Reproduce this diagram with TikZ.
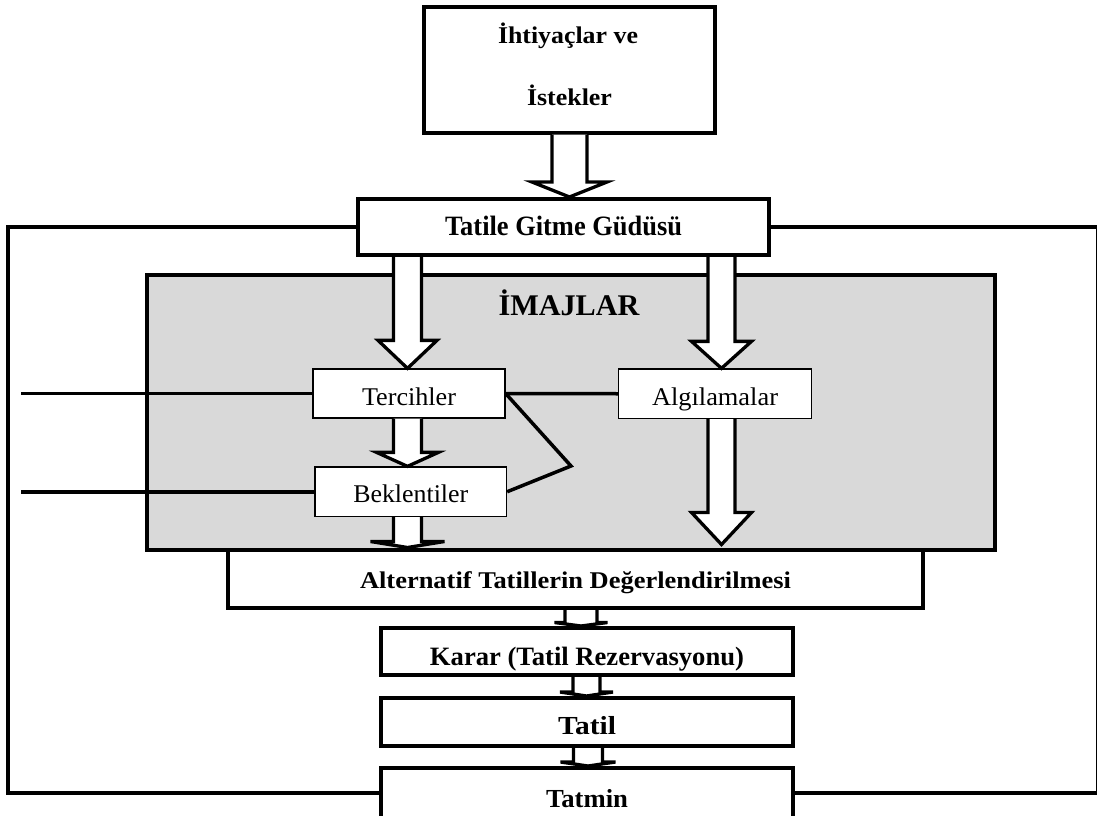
\documentclass[tikz,border=0pt]{standalone}
\usepackage{fontspec}
\usepackage{graphicx}
\setmainfont{Liberation Serif}
\usetikzlibrary{calc}
\definecolor{imgrey}{RGB}{217,217,217}

% font size helper and horizontal fitting of a text to a given width
\newcommand\fsz[1]{\fontsize{#1}{#1}\selectfont}
\newcommand\fitw[2]{\resizebox{#1pt}{\height}{#2}}

% hollow block arrow: #1 start, #2 tip, #3 shaft half width, #4 head half width, #5 head length
\newcommand\blockarrow[5]{%
  \draw[blockarrow] let \p1=(#1), \p2=(#2) in
    (\x1-#3,\y1) -- (\x1-#3,\y2+#5) -- (\x1-#4,\y2+#5) -- (\x1,\y2)
    -- (\x1+#4,\y2+#5) -- (\x1+#3,\y2+#5) -- (\x1+#3,\y1);}

\tikzset{
  thickbox/.style={draw, line width=4pt, fill=white, inner sep=0pt},
  thinbox/.style={draw, line width=1.3pt, fill=white, inner sep=0pt},
  link/.style={line width=3.5pt},
  frameline/.style={line width=4pt},
  blockarrow/.style={draw, fill=white, line width=3.3pt},
  plain/.style={inner sep=0pt, anchor=base},
}

\begin{document}
\begin{tikzpicture}[x=1pt,y=-1pt]
\useasboundingbox (0,0) rectangle (1097,816);
\fill[white] (0,0) rectangle (1097,816);

% column and edge coordinates
\coordinate (fl) at (8,0);
\coordinate (fr) at (1097.5,0);
\coordinate (lx) at (21,0);
\coordinate (colL) at (407.5,0);
\coordinate (colR) at (721.5,0);
\coordinate (colA) at (581,0);
\coordinate (colB) at (586.5,0);
\coordinate (colC) at (588,0);
\coordinate (apex) at (571,466);

% shaded image region
\node[draw, line width=4pt, fill=imgrey, inner sep=0pt,
      minimum width=847.5pt, minimum height=274.5pt] (imaj) at (570.75,412.25) {};
\node[plain] (imajt) at (569,315) {\fsz{30}\bfseries\fitw{141}{İMAJLAR}};

% boxes
\node[thickbox, minimum width=291pt, minimum height=125.5pt] (need) at (569.5,69.75) {};
\node[plain] (needa) at (568,43.3) {\fsz{24}\bfseries\fitw{140}{İhtiyaçlar ve}};
\node[plain] (needb) at (569.5,105) {\fsz{24}\bfseries\fitw{85}{İstekler}};

\node[thickbox, minimum width=411pt, minimum height=56pt,
      text height=21pt, text depth=5pt] (gudu) at (563.5,227)
      {\fsz{28}\bfseries\fitw{237}{Tatile Gitme Güdüsü}};

\node[thinbox, minimum width=192pt, minimum height=49pt,
      text height=28pt, text depth=5pt] (terc) at (409,393.5)
      {\fsz{25.5}\fitw{94}{Tercihler}};
\node[thinbox, minimum width=191.5pt, minimum height=49.5pt,
      text height=27pt, text depth=5pt] (bekl) at (410.75,491.75)
      {\fsz{25.5}\fitw{115}{Beklentiler}};
\node[thinbox, minimum width=193pt, minimum height=49.5pt,
      text height=27.5pt, text depth=5pt] (algi) at (715,393.75)
      {\fsz{25.5}\fitw{126}{Algılamalar}};

\node[thickbox, minimum width=695pt, minimum height=58.5pt,
      text height=23.5pt, text depth=5pt] (alt) at (575.5,578.75)
      {\fsz{24}\bfseries\fitw{431}{Alternatif Tatillerin Değerlendirilmesi}};
\node[thickbox, minimum width=412pt, minimum height=47pt,
      text height=32pt, text depth=5pt] (karar) at (587,651.5)
      {\fsz{26.5}\bfseries\fitw{314}{Karar (Tatil Rezervasyonu)}};
\node[thickbox, minimum width=412pt, minimum height=48pt,
      text height=29pt, text depth=5pt] (tatil) at (587,722)
      {\fsz{26}\bfseries\fitw{58}{Tatil}};
\node[thickbox, minimum width=412pt, minimum height=50pt,
      text height=33pt, text depth=5pt] (tatmin) at (587,793)
      {\fsz{26}\bfseries\fitw{82}{Tatmin}};

% feedback frame from Tatmin back to the motive
\draw[frameline] (tatmin.west) -| (gudu.west -| fl) -- (gudu.west);
\draw[frameline] (tatmin.east) -| (gudu.east -| fr) -- (gudu.east);

% links between the image boxes
\draw[link] (terc.west) -- (terc.west -| lx);
\draw[link] (bekl.west) -- (bekl.west -| lx);
\draw[link] (terc.east) -- (algi.west);
\draw[link, line join=miter] (terc.east) -- (apex) -- (bekl.east);

% block arrows
\blockarrow{need.south}{gudu.north}{17.5pt}{37.5pt}{15pt}
\blockarrow{gudu.south -| colL}{terc.north -| colL}{14pt}{29.5pt}{28pt}
\blockarrow{gudu.south -| colR}{algi.north -| colR}{13.5pt}{30pt}{27pt}
\blockarrow{terc.south -| colL}{bekl.north -| colL}{14pt}{31pt}{14pt}
\blockarrow{bekl.south -| colL}{alt.north -| colL}{14pt}{37pt}{6pt}
\blockarrow{algi.south -| colR}{$(alt.north -| colR)+(0,-3)$}{13.5pt}{30pt}{32pt}
\blockarrow{alt.south -| colA}{karar.north -| colA}{16pt}{26.5pt}{3.5pt}
\blockarrow{karar.south -| colB}{tatil.north -| colB}{13.5pt}{26.5pt}{4pt}
\blockarrow{tatil.south -| colC}{tatmin.north -| colC}{14.5pt}{27.5pt}{4pt}
\end{tikzpicture}
\end{document}
